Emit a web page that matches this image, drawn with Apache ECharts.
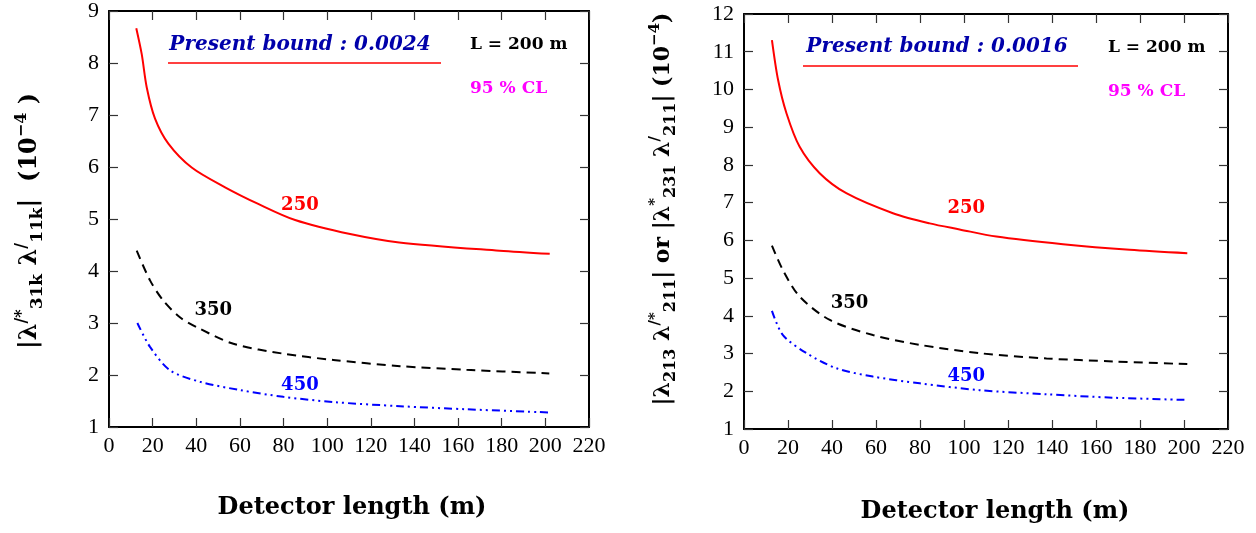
<!DOCTYPE html>
<html><head><meta charset="utf-8">
<script src="https://cdn.jsdelivr.net/npm/echarts@6/dist/echarts.min.js"></script>
<style>html,body{margin:0;padding:0;background:#fff}#c{width:1256px;height:533px}</style>
</head><body><div id="c"></div>
<script>
// ---- data ----
const leftX250 = [12.5, 15, 17.3, 21.1, 27.2, 37.9, 53.2, 68.4, 85.3, 110.5, 133, 179, 202];
const leftY250 = [8.67, 8.17, 7.53, 6.93, 6.45, 5.99, 5.61, 5.29, 4.98, 4.71, 4.55, 4.39, 4.33];
const leftX350 = [12.7, 18.8, 24.9, 32.5, 40.2, 57, 79.9, 102.8, 133.4, 163.9, 201.8];
const leftY350 = [4.39, 3.82, 3.43, 3.11, 2.92, 2.60, 2.41, 2.29, 2.17, 2.10, 2.03];
const leftX450 = [13, 18.8, 28, 41.7, 60, 79.9, 102.8, 133.4, 164, 201.8];
const leftY450 = [3.0, 2.54, 2.09, 1.87, 1.71, 1.58, 1.48, 1.40, 1.34, 1.28];

const rightX250 = [12.7, 15.5, 19.3, 25.3, 34.4, 46.5, 67.7, 84.4, 98, 114.7, 145, 175.3, 201.5];
const rightY250 = [11.31, 10.25, 9.37, 8.48, 7.78, 7.25, 6.72, 6.45, 6.29, 6.10, 5.90, 5.75, 5.66];
const rightX350 = [12.7, 17.7, 25.3, 39, 58.6, 79.9, 107, 137.5, 167.7, 201.5];
const rightY350 = [5.86, 5.21, 4.51, 3.89, 3.49, 3.23, 3.01, 2.87, 2.79, 2.72];
const rightX450 = [12.7, 17.7, 28.4, 42, 58.6, 79.9, 107, 137.5, 167.7, 201.5];
const rightY450 = [4.13, 3.49, 3.01, 2.61, 2.39, 2.21, 2.03, 1.92, 1.83, 1.77];

const massLabels = ['250', '350', '450'];
const leftLabelPos = [[87.5, 5.26], [47.8, 3.24], [87.5, 1.80]];
const rightLabelPos = [[101, 6.85], [48, 4.33], [101, 2.39]];

const xRange = [0, 220, 20];
const leftYRange = [1, 9, 1];
const rightYRange = [1, 12, 1];

const boundLeft = 'Present bound : 0.0024';
const boundRight = 'Present bound : 0.0016';
const lengthText = 'L = 200 m';
const clText = '95 % CL';
const xTitle = 'Detector length (m)';

// ---- helpers ----
const zip = (xs, ys) => xs.map((x, i) => [x, ys[i]]);
const serifTick = {fontFamily: 'Liberation Serif', fontSize: 22, color: '#000'};
const boldFont = 'DejaVu Serif';

function xAx(gridIndex, pos) {
  return {
    type: 'value', gridIndex, position: pos, min: xRange[0], max: xRange[1], interval: xRange[2],
    axisLine: {show: true, onZero: false, lineStyle: {color: '#000', width: 2}},
    axisTick: {show: true, inside: true, length: 9, lineStyle: {color: '#333', width: 1.2}},
    axisLabel: pos === 'bottom' ? Object.assign({show: true, margin: 8}, serifTick) : {show: false},
    splitLine: {show: false}
  };
}
function yAx(gridIndex, pos, r) {
  return {
    type: 'value', gridIndex, position: pos, min: r[0], max: r[1], interval: r[2],
    axisLine: {show: true, onZero: false, lineStyle: {color: '#000', width: 2}},
    axisTick: {show: true, inside: true, length: 9, lineStyle: {color: '#333', width: 1.2}},
    axisLabel: pos === 'left' ? Object.assign({show: true, margin: 10}, serifTick) : {show: false},
    splitLine: {show: false}
  };
}
function curve(xi, yi, data, color, type, label, pos) {
  return {
    type: 'line', xAxisIndex: xi, yAxisIndex: yi, data, smooth: 0.3,
    showSymbol: false, symbol: 'none', silent: true,
    lineStyle: {color, width: 2, type},
    markPoint: {
      symbol: 'circle', symbolSize: 0, silent: true,
      data: [{coord: pos, label: {show: true, formatter: label, color, fontFamily: boldFont,
        fontWeight: 'bold', fontSize: 18, position: 'inside'}}]
    }
  };
}

function richSet(base, small, shift, lh) {
  return {
    b: {fontFamily: boldFont, fontWeight: 'bold', fontSize: base, color: '#000', lineHeight: lh},
    sub: {fontFamily: boldFont, fontWeight: 'bold', fontSize: small, color: '#000', padding: [shift, 0, 0, 0], lineHeight: lh},
    sup: {fontFamily: boldFont, fontWeight: 'bold', fontSize: small - 1, color: '#000', padding: [0, 0, shift, 0], lineHeight: lh}
  };
}
const leftYLabel = '{b||λ}{sup|/*}{sub|31k}{b| λ}{sup|/}{sub|11k}{b||  (10}{sup|−4}{b| )}';
const rightYLabel = '{b||λ}{sub|213}{b| λ}{sup|/*}{sub|211}{b|| or |λ}{sup|*}{sub|231}{b| λ}{sup|/}{sub|211}{b|| (10}{sup|−4}{b|)}';

function txt(x, y, text, color, size, italic, align) {
  return {type: 'text', x, y, silent: true, style: {text, fill: color, font: (italic ? 'italic ' : '') + 'bold ' + size + 'px "' + boldFont + '"',
    textAlign: align || 'left', textVerticalAlign: 'middle'}};
}

const chart = echarts.init(document.getElementById('c'), null, {renderer: 'canvas'});
chart.setOption({
  animation: false,
  backgroundColor: '#fff',
  grid: [
    {left: 109, top: 10, width: 480, height: 417, show: false},
    {left: 744, top: 14, width: 484, height: 415, show: false}
  ],
  xAxis: [xAx(0, 'bottom'), xAx(0, 'top'), xAx(1, 'bottom'), xAx(1, 'top')],
  yAxis: [yAx(0, 'left', leftYRange), yAx(0, 'right', leftYRange), yAx(1, 'left', rightYRange), yAx(1, 'right', rightYRange)],
  series: [
    curve(0, 0, zip(leftX250, leftY250), '#ff0000', 'solid', massLabels[0], leftLabelPos[0]),
    curve(0, 0, zip(leftX350, leftY350), '#000000', [9, 6], massLabels[1], leftLabelPos[1]),
    curve(0, 0, zip(leftX450, leftY450), '#0000ff', [8, 4, 2, 4, 2, 4], massLabels[2], leftLabelPos[2]),
    curve(2, 2, zip(rightX250, rightY250), '#ff0000', 'solid', massLabels[0], rightLabelPos[0]),
    curve(2, 2, zip(rightX350, rightY350), '#000000', [9, 6], massLabels[1], rightLabelPos[1]),
    curve(2, 2, zip(rightX450, rightY450), '#0000ff', [8, 4, 2, 4, 2, 4], massLabels[2], rightLabelPos[2])
  ],
  graphic: [
    txt(300, 45, boundLeft, '#0000aa', 20, true, 'center'),
    {type: 'line', silent: true, shape: {x1: 168, y1: 63, x2: 441, y2: 63}, style: {stroke: '#ff0000', lineWidth: 1.3}},
    txt(470, 45, lengthText, '#000', 17, false),
    txt(470, 89, clText, '#ff00ff', 17, false),
    txt(937, 47, boundRight, '#0000aa', 20, true, 'center'),
    {type: 'line', silent: true, shape: {x1: 803, y1: 66, x2: 1078, y2: 66}, style: {stroke: '#ff0000', lineWidth: 1.3}},
    txt(1108, 48, lengthText, '#000', 17, false),
    txt(1108, 92, clText, '#ff00ff', 17, false),
    txt(352, 508, xTitle, '#000', 24, false, 'center'),
    txt(995, 512, xTitle, '#000', 24, false, 'center'),
    {type: 'text', x: 30, y: 221, rotation: Math.PI / 2, silent: true,
      style: {text: leftYLabel, rich: richSet(24, 17, 16, 44), textAlign: 'center', textVerticalAlign: 'middle'}},
    {type: 'text', x: 663, y: 209, rotation: Math.PI / 2, silent: true,
      style: {text: rightYLabel, rich: richSet(22, 16, 15, 42), textAlign: 'center', textVerticalAlign: 'middle'}}
  ]
});
</script>
</body></html>
